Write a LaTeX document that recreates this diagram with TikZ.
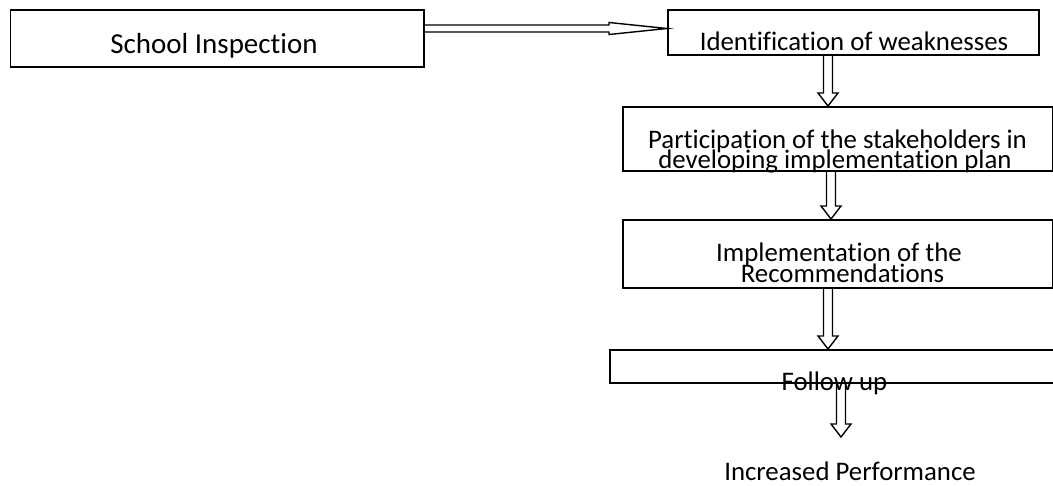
\documentclass[tikz,border=0pt]{standalone}
\usepackage{fontspec}
\setmainfont{Carlito}[Ligatures=NoCommon]
\usetikzlibrary{calc}
\tikzset{
  box/.style={draw, line width=1.6pt, inner sep=0pt, anchor=north west},
  txt/.style={anchor=base, inner sep=0pt, font=\fontsize{26.8}{20.5}\selectfont},
  flowline/.style={line width=1.4pt, line join=miter}
}
% hollow block arrow pointing down: start point, tip point, x of the arrow
\newcommand{\flowdown}[3]{%
  \draw [flowline] let \p1=#1, \p2=#2, \p3=(#3,0) in
    (\x3-4.5pt,\y1) -- (\x3-4.5pt,\y2+13pt) -- (\x3-10pt,\y2+13pt) -- (\x3,\y2)
    -- (\x3+10pt,\y2+13pt) -- (\x3+4.5pt,\y2+13pt) -- (\x3+4.5pt,\y1);}
\begin{document}
\begin{tikzpicture}[x=1pt,y=-1pt]
  \useasboundingbox (0,0) rectangle (1053,485);
  \clip (0,0) rectangle (1053,485);
  % boxes
  \node [box, minimum width=413.5pt, minimum height=57pt] (school) at (9.5,9) {};
  \node [box, minimum width=371pt, minimum height=45pt] (ident) at (667,9) {};
  \node [box, minimum width=430pt, minimum height=64pt] (partic) at (622,106) {};
  \node [box, minimum width=430pt, minimum height=68pt] (implem) at (622,219) {};
  \node [box, minimum width=500pt, minimum height=33pt] (follow) at (609,349) {};
  % texts
  \node [txt, font=\fontsize{29}{20.5}\selectfont] (schooltxt) at (214,53) {School Inspection};
  \node [txt] (identtxt) at (854,50) {Identification of weaknesses};
  \node [txt] (partictop) at (837.5,148) {Participation of the stakeholders in};
  \node [txt] (particbot) at (835,168) {developing implementation plan};
  \node [txt] (implemtop) at (839,261) {Implementation of the};
  \node [txt] (implembot) at (842.5,282) {Recommendations};
  \node [txt] (followtxt) at (834.5,390) {Follow up};
  \node [txt] (perf) at (850,480) {Increased Performance};
  \coordinate (perftip) at (841,437);
  % arrows
  \draw [flowline] let \p1=(school.east), \p2=(ident.west), \p3=(0,28.5) in
    (\x1,\y3+3.5pt) -- (\x2-58pt,\y3+3.5pt) -- (\x2-58pt,\y3+6pt) -- (\x2,\y3)
    -- (\x2-58pt,\y3-6pt) -- (\x2-58pt,\y3-3.5pt) -- (\x1,\y3-3.5pt);
  \flowdown{(ident.south)}{(partic.north)}{828}
  \flowdown{(partic.south)}{(implem.north)}{831}
  \flowdown{(implem.south)}{(follow.north)}{828}
  \flowdown{(follow.south)}{(perftip)}{841}
\end{tikzpicture}
\end{document}
